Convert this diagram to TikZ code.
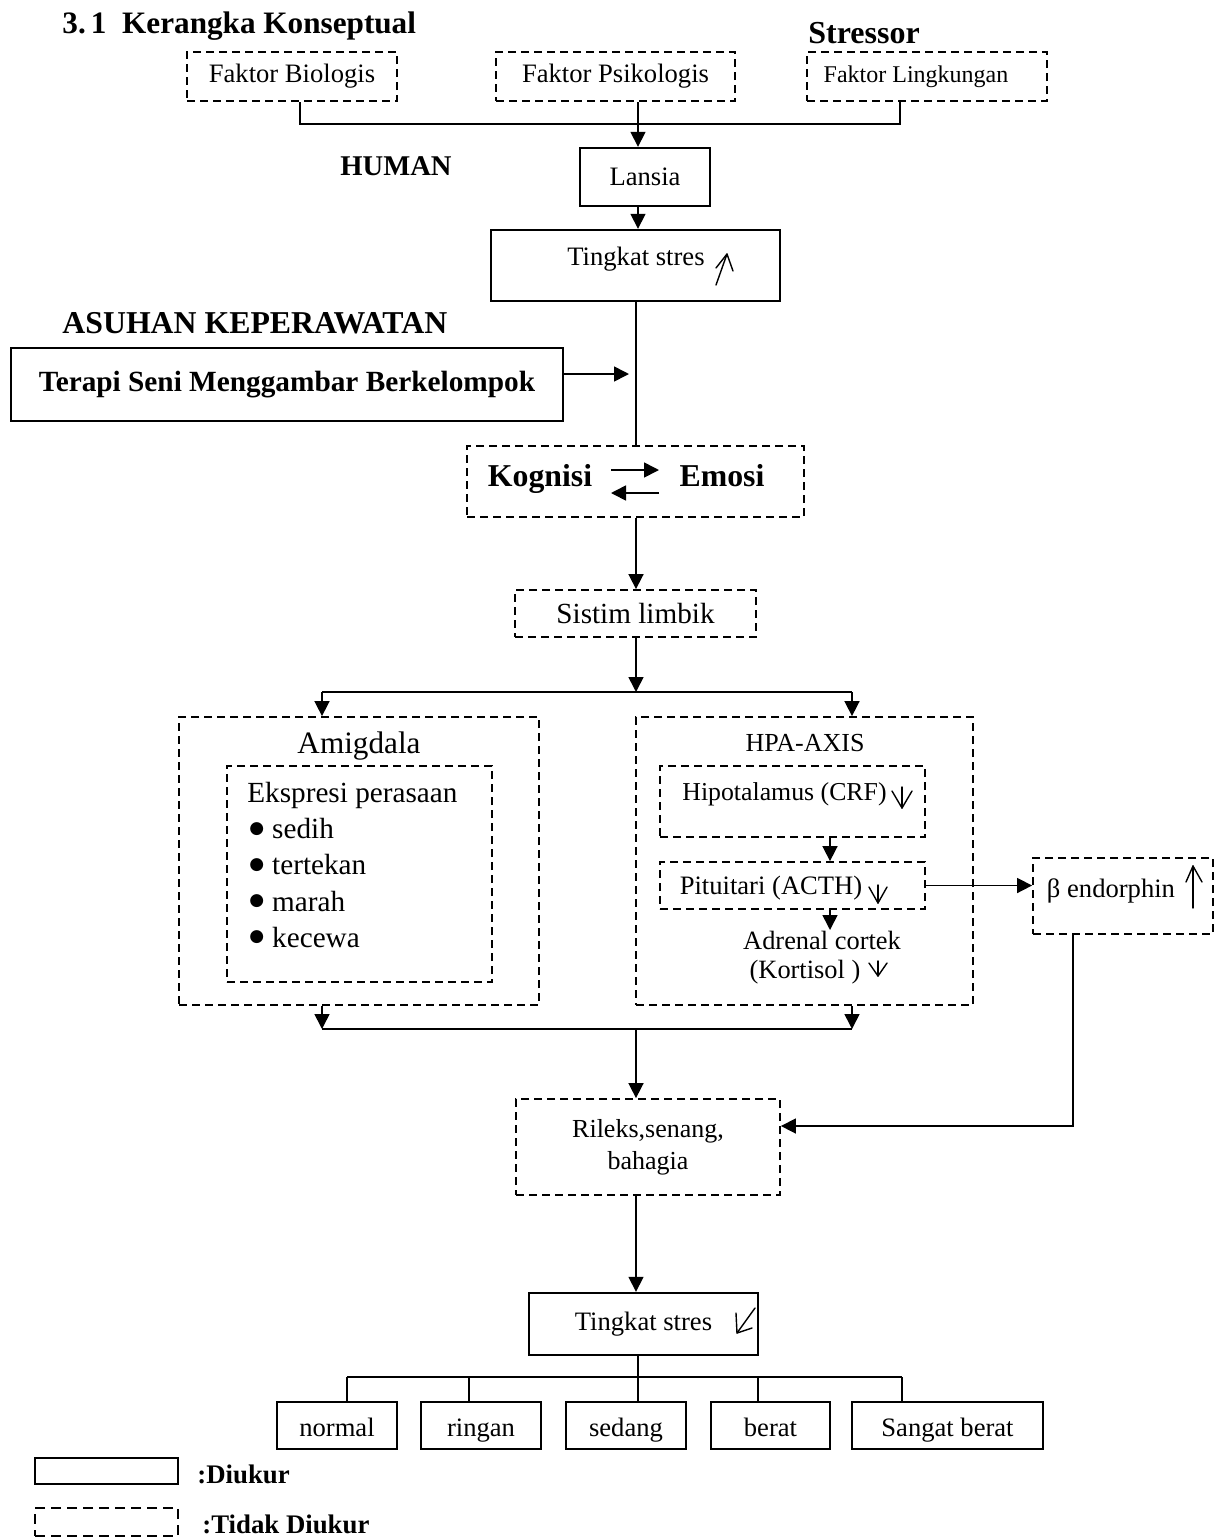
\documentclass[tikz,border=0pt]{standalone}
\usepackage{fontspec}
\setmainfont{Liberation Serif}
\newfontfamily\djv{DejaVu Sans}
\usetikzlibrary{arrows.meta}
\newcommand\fsz[2]{\fontsize{#1}{#2}\selectfont}
\newcommand\bul{\raisebox{2.6pt}{\djv\fsz{8.5}{8.5}●}\hspace{4pt}}
\begin{document}
\begin{tikzpicture}[x=0.5pt,y=-0.5pt,
 sbox/.style={draw, line width=1.2pt, inner sep=0pt, font=\fsz{13.3}{16}},
 dbox/.style={draw, line width=0.9pt, dash pattern=on 4pt off 2.5pt, inner sep=0pt, font=\fsz{13.3}{16}},
 dboxb/.style={dbox, line width=1.3pt},
 lvl/.style={sbox, minimum height=23.5pt, text height=12.5pt, text depth=2pt},
 conn/.style={line width=0.8pt},
 arr/.style={conn, -{Triangle[length=7.5pt,width=7.5pt]}},
 txt/.style={inner sep=0pt, font=\fsz{13.3}{16}},
 ttl/.style={inner sep=0pt, anchor=base west},
 sign/.style={line width=0.7pt, line cap=round, line join=round}]
\useasboundingbox (0,0) rectangle (1219,1537);

% titles
\node[ttl, font=\bfseries\fsz{15.6}{18}] (title) at (62,33) {3.\,1\ \ Kerangka Konseptual};
\node[ttl, font=\bfseries\fsz{16}{18}] (stressor) at (808,43) {Stressor};
\node[ttl, font=\bfseries\fsz{14.3}{18}] (human) at (340,175) {HUMAN};
\node[ttl, font=\bfseries\fsz{15.9}{18}] (asuhan) at (62,333) {ASUHAN KEPERAWATAN};

% top boxes
\node[dboxb, minimum width=105pt, minimum height=24.5pt] (bio) at (292,76.5) {Faktor Biologis};
\node[dboxb, minimum width=119.5pt, minimum height=24.5pt] (psi) at (615.5,76.5) {Faktor Psikologis};
\node[dboxb, minimum width=120pt, minimum height=24.5pt] (ling) at (927,76.5) {};
\node[txt, font=\fsz{12}{14}] (lingt) at (916,77) {Faktor Lingkungan};
\node[sbox, minimum width=65pt, minimum height=29pt] (lansia) at (645,177) {Lansia};
\node[sbox, minimum width=144.5pt, minimum height=35.5pt] (ts1) at (635.5,265.5) {};
\node[txt] (ts1t) at (636,259) {Tingkat stres};
\node[sbox, minimum width=276pt, minimum height=36.5pt, font=\bfseries\fsz{14.65}{17}] (terapi) at (287,384.5) {\raisebox{2.5pt}{Terapi Seni Menggambar Berkelompok}};

% kognisi
\node[dbox, minimum width=168.5pt, minimum height=35.5pt] (kog) at (635.5,481.5) {};
\node[txt, anchor=base, font=\bfseries\fsz{15.9}{18}] (kogt) at (540,486) {Kognisi};
\node[txt, anchor=base, font=\bfseries\fsz{15.9}{18}] (emot) at (722,486) {Emosi};
\coordinate (ka) at (611,470); \coordinate (kb) at (659,470);
\coordinate (kc) at (659,493); \coordinate (kd) at (611,493);
\draw[arr] (ka) -- (kb);
\draw[arr] (kc) -- (kd);

\node[dbox, minimum width=120.5pt, minimum height=23.5pt, font=\fsz{14.6}{17}] (lim) at (635.5,613.5) {Sistim limbik};

% amigdala
\node[dbox, minimum width=180pt, minimum height=144pt] (amig) at (359,861) {};
\node[txt, font=\fsz{15.6}{18}] (amigt) at (359,746) {Amigdala};
\node[dbox, minimum width=132.5pt, minimum height=108pt] (eksp) at (359.5,874) {};
\node[txt, anchor=west, font=\fsz{14.6}{17}] (e0) at (247,795) {Ekspresi perasaan};
\node[txt, anchor=west, font=\fsz{14.6}{17}] (e1) at (249,829) {\bul sedih};
\node[txt, anchor=west, font=\fsz{14.6}{17}] (e2) at (249,865) {\bul tertekan};
\node[txt, anchor=west, font=\fsz{14.6}{17}] (e3) at (249,901) {\bul marah};
\node[txt, anchor=west, font=\fsz{14.6}{17}] (e4) at (249,937) {\bul kecewa};

% HPA axis
\node[dbox, minimum width=168.5pt, minimum height=144pt] (hpa) at (804.5,861) {};
\node[txt, font=\fsz{13}{16}] (hpat) at (805,743) {HPA-AXIS};
\node[dbox, minimum width=132.5pt, minimum height=35.5pt] (hipo) at (792.5,801.5) {};
\node[txt, font=\fsz{12.9}{16}] (hipot) at (784.5,794) {Hipotalamus (CRF)};
\node[dbox, minimum width=132.5pt, minimum height=23.5pt] (pit) at (792.5,885.5) {};
\node[txt, font=\fsz{13.3}{16}] (pitt) at (771,888) {Pituitari (ACTH)};
\node[txt, font=\fsz{13.2}{16}] (adr1) at (822,940) {Adrenal cortek};
\node[txt, font=\fsz{13.2}{16}] (adr2) at (805,972) {(Kortisol )};

% beta endorphin
\node[dbox, minimum width=90pt, minimum height=38pt] (beta) at (1123,896) {};
\node[txt] (betat) at (1111,891) {β endorphin};

% rileks
\node[dbox, minimum width=132pt, minimum height=48pt, align=center, font=\fsz{13}{16}] (ril) at (648,1147) {Rileks,senang,\\bahagia};

% bottom
\node[sbox, minimum width=114.5pt, minimum height=31pt] (ts2) at (643.5,1324) {Tingkat stres\hspace{14pt}};
\node[lvl, minimum width=60pt] (normal) at (337,1425.5) {normal};
\node[lvl, minimum width=60pt] (ringan) at (481,1425.5) {ringan};
\node[lvl, minimum width=60pt] (sedang) at (626,1425.5) {sedang};
\node[lvl, minimum width=59.5pt] (berat) at (770.5,1425.5) {berat};
\node[lvl, minimum width=95.5pt] (sangat) at (947.5,1425.5) {Sangat berat};

% legend
\node[sbox, minimum width=71.5pt, minimum height=13pt] (lsolid) at (106.5,1471) {};
\node[dbox, dash pattern=on 5pt off 3pt, minimum width=71.5pt, minimum height=14pt] (ldash) at (106.5,1522) {};
\node[txt, anchor=west, font=\bfseries\fsz{13.4}{16}] (ldiu) at (197,1474) {:Diukur};
\node[txt, anchor=west, font=\bfseries\fsz{13.4}{16}] (ltdiu) at (202,1524) {:Tidak Diukur};

% connectors
\coordinate (c1) at (300,124); \coordinate (c2) at (900,124); \coordinate (c3) at (638,124);
\draw[conn] (bio.south -| c1) -- (c1) -- (c2) -- (ling.south -| c2);
\draw[arr] (psi.south -| c3) -- (lansia.north -| c3);
\draw[arr] (lansia.south -| c3) -- (ts1.north -| c3);
\coordinate (c4) at (636,374); \coordinate (c5) at (629,374);
\draw[conn] (ts1.south -| c4) -- (kog.north -| c4);
\draw[arr] (terapi.east |- c4) -- (c5);
\draw[arr] (kog.south -| c4) -- (lim.north -| c4);
\coordinate (d0) at (636,692); \coordinate (d1) at (322,692); \coordinate (d2) at (852,692);
\draw[arr] (lim.south -| d0) -- (d0);
\draw[conn] (d1) -- (d2);
\draw[arr] (d1) -- (amig.north -| d1);
\draw[arr] (d2) -- (hpa.north -| d2);
\coordinate (f0) at (636,1029); \coordinate (f1) at (322,1029); \coordinate (f2) at (852,1029);
\draw[arr] (amig.south -| f1) -- (f1);
\draw[arr] (hpa.south -| f2) -- (f2);
\draw[conn] (f1) -- (f2);
\draw[arr] (f0) -- (ril.north -| f0);
\coordinate (h0) at (830,930);
\draw[arr] (hipo.south -| h0) -- (pit.north -| h0);
\draw[arr] (pit.south -| h0) -- (h0);
\draw[arr] (pit.east) -- (beta.west |- pit.east);
\coordinate (b1) at (1073,1126);
\draw[arr] (beta.south -| b1) -- (b1) -- (ril.east |- b1);
\coordinate (g0) at (636,1200);
\draw[arr] (ril.south -| g0) -- (ts2.north -| g0);
\coordinate (k0) at (638,1377); \coordinate (k1) at (347,1377); \coordinate (k2) at (469,1377);
\coordinate (k3) at (758,1377); \coordinate (k4) at (902,1377);
\draw[conn] (ts2.south -| k0) -- (k0);
\draw[conn] (k1) -- (k4);
\draw[conn] (k1) -- (normal.north -| k1);
\draw[conn] (k2) -- (ringan.north -| k2);
\draw[conn] (k0) -- (sedang.north -| k0);
\draw[conn] (k3) -- (berat.north -| k3);
\draw[conn] (k4) -- (sangat.north -| k4);

% hand-drawn trend signs
\draw[sign] (716,285) -- (727,254);
\draw[sign] (716,268) -- (727,254) -- (733,271);
\draw[sign] (902,787) -- (902,808);
\draw[sign] (892,791) -- (902,808) -- (912,791);
\draw[sign] (878,885) -- (878,903);
\draw[sign] (869,887) -- (878,903) -- (887,887);
\draw[sign] (878,961) -- (878,976);
\draw[sign] (869,963) -- (878,976) -- (887,963);
\draw[sign] (1193,908) -- (1193,866);
\draw[sign] (1186,882) -- (1193,866) -- (1202,882);
\draw[sign] (755,1308) -- (737,1333);
\draw[sign] (736,1313) -- (737,1333) -- (752,1328);
\end{tikzpicture}
\end{document}
